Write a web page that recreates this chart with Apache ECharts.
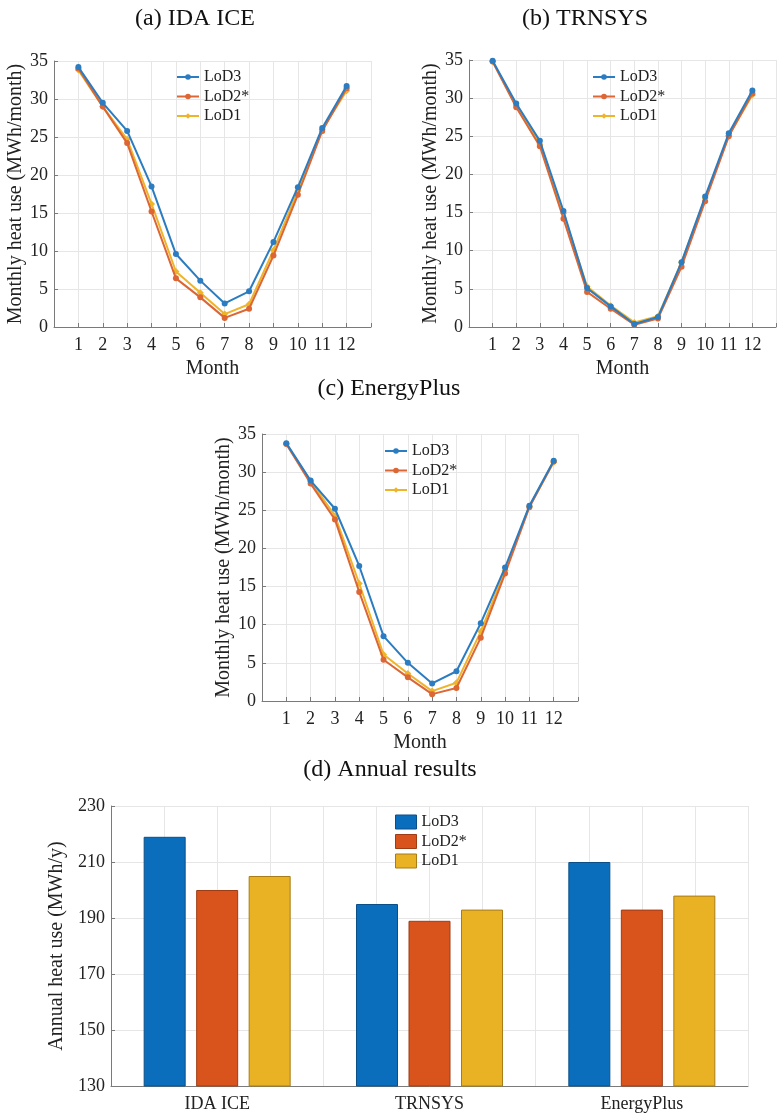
<!DOCTYPE html>
<html><head><meta charset="utf-8">
<script src="https://cdn.jsdelivr.net/npm/echarts@6/dist/echarts.min.js"></script>
<style>html,body{margin:0;padding:0;background:#fff}#c{width:779px;height:1115px}</style>
</head><body><div id="c"></div>
<script>
// ---- data ----
const months = [1,2,3,4,5,6,7,8,9,10,11,12];
const monthLabels = ['1','2','3','4','5','6','7','8','9','10','11','12'];
const seriesNames = ['LoD3','LoD2*','LoD1'];

const idaLoD3 = [34.2,29.5,25.8,18.5,9.6,6.1,3.1,4.7,11.2,18.4,26.2,31.7];
const idaLoD2 = [34.0,29.0,24.2,15.2,6.4,3.9,1.2,2.4,9.4,17.4,25.8,31.4];
const idaLoD1 = [33.8,29.0,24.7,16.2,7.3,4.5,1.7,3.0,10.1,17.9,26.0,31.1];

const trnLoD3 = [34.9,29.3,24.4,15.2,5.1,2.7,0.4,1.3,8.5,17.1,25.4,31.0];
const trnLoD2 = [34.8,28.8,23.7,14.2,4.6,2.4,0.3,1.1,7.9,16.5,25.0,30.6];
const trnLoD1 = [34.8,29.0,24.0,14.9,5.3,2.8,0.6,1.4,8.5,16.9,25.1,30.4];

const epLoD3 = [33.8,28.9,25.2,17.7,8.5,5.0,2.3,3.9,10.2,17.5,25.6,31.5];
const epLoD2 = [33.7,28.5,23.8,14.3,5.4,3.1,0.9,1.7,8.3,16.7,25.4,31.4];
const epLoD1 = [33.7,28.8,24.3,15.4,6.1,3.6,1.3,2.4,9.1,17.1,25.5,31.3];

const annualCategories = ['IDA ICE','TRNSYS','EnergyPlus'];
const annualLoD3 = [219,195,210];
const annualLoD2 = [200,189,193];
const annualLoD1 = [205,193,198];

const panelTitles = ['(a) IDA ICE','(b) TRNSYS','(c) EnergyPlus','(d) Annual results'];
const monthlyAxisName = 'Monthly heat use (MWh/month)';
const annualAxisName = 'Annual heat use (MWh/y)';
const monthAxisName = 'Month';

// ---- styles ----
const FONT = "'Liberation Serif','Times New Roman',serif";
const lineColors = ['#2b7cc0','#dc6634','#eeb42a'];
const barColors = ['#0b6ebd','#d9531c','#e9b124'];
const barBorders = ['#0a4f88','#9e3c14','#a87d18'];
const symbols = ['circle','circle','diamond'];
const gridColor = '#e6e6e6';
const axisColor = '#7a7a7a';

const chart = echarts.init(document.getElementById('c'), null, {renderer:'canvas'});

const grids = [
  {left:54, right:408, top:61, bottom:788},
  {left:469, right:-7, top:60, bottom:788},
  {left:262, right:201, top:434, bottom:414},
  {left:111, right:31, top:806, bottom:29}
];

function monthX(i){
  return {
    gridIndex:i, type:'value', min:0, max:13, interval:1,
    name: monthAxisName, nameLocation:'middle', nameGap:32,
    nameTextStyle:{fontFamily:FONT, fontSize:20, color:'#222'},
    axisLine:{lineStyle:{color:axisColor}},
    axisTick:{inside:true, length:4, lineStyle:{color:axisColor}},
    axisLabel:{fontFamily:FONT, fontSize:18, color:'#222', margin:9,
      formatter:v => (v>=1 && v<=12) ? monthLabels[v-1] : ''},
    splitLine:{show:true, lineStyle:{color:gridColor}}
  };
}
function monthY(i, gap){
  return {
    gridIndex:i, type:'value', min:0, max:35, interval:5,
    name: monthlyAxisName, nameLocation:'middle', nameGap:gap,
    nameTextStyle:{fontFamily:FONT, fontSize:20, color:'#222'},
    axisLine:{show:true, lineStyle:{color:axisColor}},
    axisTick:{show:true, inside:true, length:4, lineStyle:{color:axisColor}},
    axisLabel:{fontFamily:FONT, fontSize:18, color:'#222', margin:6},
    splitLine:{show:true, lineStyle:{color:gridColor}}
  };
}

function lineSeries(gi, arrs){
  return arrs.map((arr, k) => ({
    type:'line', name:seriesNames[k], xAxisIndex:gi, yAxisIndex:gi,
    data: months.map((m, j) => [m, arr[j]]),
    symbol:symbols[k], symbolSize: k===2 ? 7 : 6, showSymbol:true,
    lineStyle:{width:2, color:lineColors[k]},
    itemStyle:{color:lineColors[k]},
    z: 10 - k,
    animation:false
  }));
}

function lineLegend(left, top){
  return {
    orient:'vertical', left:left, top:top, padding:0,
    itemWidth:22, itemHeight:7, itemGap:3.5,
    textStyle:{fontFamily:FONT, fontSize:16, color:'#222', lineHeight:16},
    data: seriesNames.slice()
  };
}

const option = {
  animation:false,
  backgroundColor:'#fff',
  title: [
    {text:panelTitles[0], left:195, top:7, textAlign:'center'},
    {text:panelTitles[1], left:585, top:7, textAlign:'center'},
    {text:panelTitles[2], left:389, top:377, textAlign:'center'},
    {text:panelTitles[3], left:390, top:758, textAlign:'center'}
  ].map(t => Object.assign(t, {padding:0, textStyle:{fontFamily:FONT, fontSize:24, fontWeight:'normal', color:'#111'}})),
  grid: grids,
  xAxis: [
    monthX(0), monthX(1), monthX(2),
    {
      gridIndex:3, type:'category', data:annualCategories,
      axisLine:{lineStyle:{color:axisColor}},
      axisTick:{show:true, inside:true, length:4, alignWithLabel:true, lineStyle:{color:axisColor}},
      axisLabel:{fontFamily:FONT, fontSize:18, color:'#222', margin:9},
      splitLine:{show:false}
    },
    {
      gridIndex:3, type:'value', min:0.5, max:3.5, interval:0.25, position:'top',
      axisLine:{show:false}, axisTick:{show:false}, axisLabel:{show:false},
      splitLine:{show:true, lineStyle:{color:gridColor}}
    }
  ],
  yAxis: [
    monthY(0, 27), monthY(1, 26), monthY(2, 26),
    {
      gridIndex:3, type:'value', min:130, max:230, interval:20,
      name: annualAxisName, nameLocation:'middle', nameGap:34,
      nameTextStyle:{fontFamily:FONT, fontSize:20, color:'#222'},
      axisLine:{show:true, lineStyle:{color:axisColor}},
      axisTick:{show:true, inside:true, length:4, lineStyle:{color:axisColor}},
      axisLabel:{fontFamily:FONT, fontSize:18, color:'#222', margin:6},
      splitLine:{show:true, lineStyle:{color:gridColor}}
    }
  ],
  legend: [
    lineLegend(176, 69),
    lineLegend(592, 69),
    lineLegend(384, 443),
    {
      orient:'vertical', left:395, top:814, padding:0,
      itemWidth:21, itemHeight:14, itemGap:3.5,
      textStyle:{fontFamily:FONT, fontSize:16, color:'#222', lineHeight:16},
      data: seriesNames.map((n,k) => ({name:n, icon:'rect',
        itemStyle:{color:barColors[k], borderColor:barBorders[k], borderWidth:1}}))
    }
  ],
  series: [
    ...lineSeries(0, [idaLoD3, idaLoD2, idaLoD1]),
    ...lineSeries(1, [trnLoD3, trnLoD2, trnLoD1]),
    ...lineSeries(2, [epLoD3, epLoD2, epLoD1]),
    ...[annualLoD3, annualLoD2, annualLoD1].map((arr,k) => ({
      type:'bar', name:seriesNames[k], xAxisIndex:3, yAxisIndex:3,
      data: arr, barWidth:42, barGap:'25%',
      itemStyle:{color:barColors[k], borderColor:barBorders[k], borderWidth:1},
      animation:false
    }))
  ]
};
chart.setOption(option);
</script>
</body></html>
